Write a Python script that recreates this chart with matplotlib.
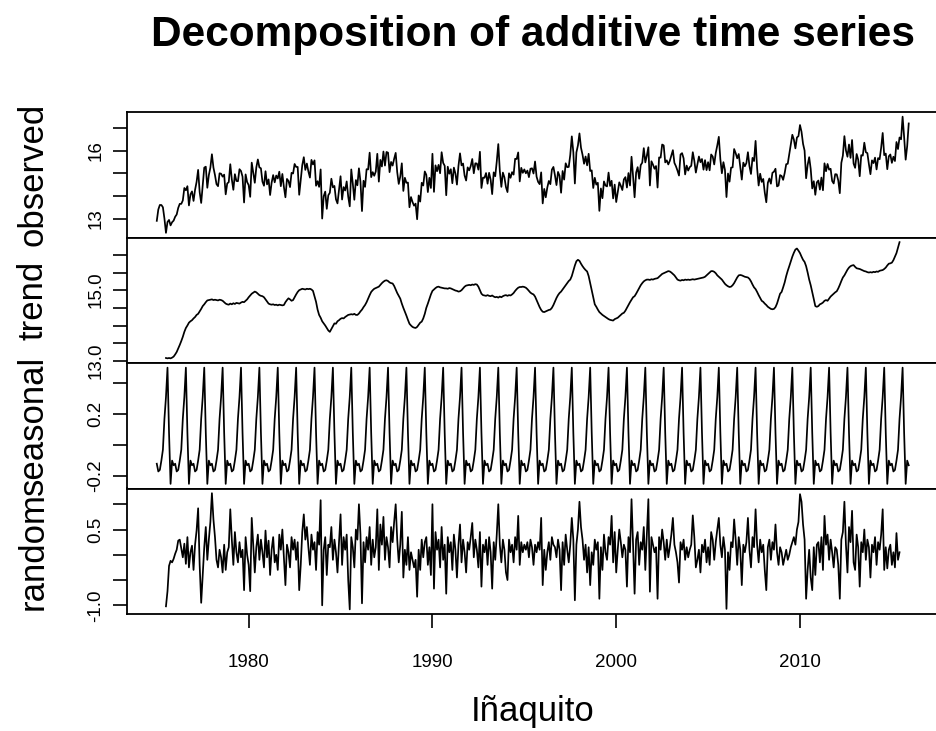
import numpy as np
import matplotlib
matplotlib.use('Agg')
import matplotlib.pyplot as plt

plt.rcParams['font.family'] = ['Liberation Sans', 'DejaVu Sans']

nan = np.nan

# 1) monthly components, Jan 1975 - Dec 2015 (one row per year, Jan..Dec)
trend_rows = [
    [nan, nan, nan, nan, nan, nan, 13.08, 13.07, 13.08, 13.07, 13.09, 13.12],
    [13.18, 13.25, 13.35, 13.45, 13.56, 13.68, 13.82, 13.93, 14.00, 14.08, 14.12, 14.15],
    [14.20, 14.24, 14.30, 14.33, 14.40, 14.47, 14.55, 14.60, 14.66, 14.71, 14.72, 14.73],
    [14.74, 14.72, 14.73, 14.72, 14.71, 14.73, 14.72, 14.70, 14.66, 14.62, 14.60, 14.59],
    [14.62, 14.60, 14.63, 14.61, 14.64, 14.63, 14.62, 14.65, 14.67, 14.66, 14.70, 14.74],
    [14.80, 14.85, 14.90, 14.93, 14.96, 14.94, 14.90, 14.86, 14.84, 14.83, 14.80, 14.74],
    [14.68, 14.62, 14.60, 14.59, 14.60, 14.58, 14.59, 14.57, 14.59, 14.58, 14.57, 14.58],
    [14.66, 14.72, 14.77, 14.74, 14.70, 14.72, 14.80, 14.88, 14.95, 15.00, 15.02, 15.04],
    [15.03, 15.02, 15.04, 15.03, 15.04, 15.02, 14.98, 14.82, 14.67, 14.45, 14.30, 14.22],
    [14.12, 14.06, 14.00, 13.93, 13.86, 13.82, 13.90, 13.98, 14.06, 14.05, 14.12, 14.15],
    [14.19, 14.21, 14.20, 14.24, 14.27, 14.30, 14.31, 14.32, 14.31, 14.33, 14.30, 14.30],
    [14.34, 14.40, 14.45, 14.52, 14.58, 14.66, 14.76, 14.86, 14.95, 15.00, 15.04, 15.06],
    [15.08, 15.10, 15.15, 15.20, 15.24, 15.27, 15.28, 15.26, 15.22, 15.20, 15.19, 15.12],
    [15.02, 14.92, 14.84, 14.76, 14.62, 14.50, 14.39, 14.28, 14.16, 14.05, 14.00, 13.96],
    [13.94, 13.93, 13.96, 14.02, 14.08, 14.11, 14.20, 14.33, 14.50, 14.62, 14.75, 14.88],
    [14.98, 15.02, 15.06, 15.09, 15.10, 15.08, 15.07, 15.06, 15.05, 15.05, 15.04, 15.06],
    [15.05, 15.03, 15.01, 14.99, 14.98, 14.96, 14.97, 15.00, 15.05, 15.10, 15.13, 15.14],
    [15.15, 15.14, 15.16, 15.15, 15.17, 15.16, 15.10, 15.00, 14.90, 14.86, 14.85, 14.84],
    [14.86, 14.84, 14.83, 14.85, 14.82, 14.80, 14.81, 14.79, 14.82, 14.80, 14.83, 14.85],
    [14.86, 14.84, 14.86, 14.85, 14.88, 14.92, 14.98, 15.03, 15.07, 15.09, 15.09, 15.10],
    [15.09, 15.07, 15.03, 14.98, 14.93, 14.90, 14.88, 14.82, 14.72, 14.62, 14.52, 14.44],
    [14.39, 14.38, 14.40, 14.42, 14.44, 14.45, 14.50, 14.58, 14.68, 14.78, 14.86, 14.92],
    [14.96, 15.02, 15.08, 15.14, 15.20, 15.26, 15.30, 15.40, 15.55, 15.70, 15.82, 15.86],
    [15.83, 15.75, 15.68, 15.62, 15.57, 15.53, 15.40, 15.20, 15.00, 14.80, 14.60, 14.53],
    [14.45, 14.38, 14.34, 14.30, 14.27, 14.24, 14.21, 14.18, 14.16, 14.15, 14.14, 14.18],
    [14.20, 14.22, 14.26, 14.30, 14.34, 14.36, 14.42, 14.50, 14.58, 14.66, 14.73, 14.80],
    [14.83, 14.90, 14.98, 15.06, 15.14, 15.20, 15.25, 15.28, 15.30, 15.30, 15.29, 15.31],
    [15.30, 15.32, 15.33, 15.34, 15.38, 15.42, 15.46, 15.48, 15.50, 15.52, 15.54, 15.53],
    [15.50, 15.46, 15.42, 15.36, 15.30, 15.28, 15.27, 15.29, 15.28, 15.30, 15.29, 15.30],
    [15.29, 15.30, 15.31, 15.30, 15.31, 15.32, 15.33, 15.34, 15.35, 15.36, 15.38, 15.42],
    [15.46, 15.50, 15.54, 15.54, 15.52, 15.48, 15.42, 15.38, 15.34, 15.30, 15.24, 15.18],
    [15.14, 15.11, 15.09, 15.10, 15.14, 15.20, 15.28, 15.36, 15.42, 15.43, 15.42, 15.40],
    [15.38, 15.37, 15.36, 15.32, 15.25, 15.16, 15.08, 15.03, 14.95, 14.86, 14.78, 14.70],
    [14.67, 14.62, 14.58, 14.53, 14.50, 14.47, 14.46, 14.47, 14.52, 14.62, 14.76, 14.90],
    [14.95, 15.08, 15.22, 15.40, 15.55, 15.68, 15.82, 15.95, 16.06, 16.15, 16.18, 16.12],
    [16.05, 15.95, 15.86, 15.80, 15.68, 15.50, 15.30, 15.14, 14.95, 14.75, 14.55, 14.53],
    [14.55, 14.60, 14.62, 14.65, 14.70, 14.72, 14.70, 14.76, 14.82, 14.86, 14.90, 14.94],
    [14.97, 15.05, 15.15, 15.26, 15.36, 15.42, 15.50, 15.58, 15.64, 15.68, 15.70, 15.71],
    [15.66, 15.62, 15.61, 15.60, 15.58, 15.56, 15.54, 15.53, 15.51, 15.50, 15.51, 15.50],
    [15.52, 15.51, 15.53, 15.52, 15.55, 15.56, 15.57, 15.60, 15.64, 15.70, 15.75, 15.76],
    [15.78, 15.85, 15.95, 16.05, 16.20, 16.36, nan, nan, nan, nan, nan, nan],
]

# seasonal figure, Jan..Dec
seasonal_fig = [-0.12, -0.17, -0.16, -0.10, -0.03, 0.17, 0.31, 0.50, 0.08, -0.25, -0.10, -0.13]

random_rows = [
    [nan, nan, nan, nan, nan, nan, -1.02, -0.72, -0.22, -0.12, -0.15, -0.08],
    [0.02, 0.10, 0.28, 0.30, 0.12, -0.05, 0.22, -0.18, 0.35, -0.25, 0.05, 0.18],
    [-0.30, 0.20, 0.48, 0.92, -0.20, -0.95, -0.40, 0.15, 0.55, -0.10, 0.30, 0.65],
    [1.22, 0.70, 0.35, -0.10, -0.25, 0.10, -0.05, -0.35, 0.20, -0.30, 0.05, 0.15],
    [0.90, 0.30, -0.20, 0.45, 0.05, -0.15, 0.25, -0.05, 0.10, -0.70, 0.35, 0.00],
    [-0.20, -0.72, 0.73, 0.20, -0.35, 0.15, 0.40, -0.10, 0.30, 0.05, -0.25, 0.48],
    [-0.05, 0.28, -0.40, 0.10, 0.35, -0.15, 0.00, -0.30, 0.40, 0.10, 0.50, -0.05],
    [-0.60, 0.20, 0.05, -0.25, 0.35, 0.10, 0.30, -0.10, 0.25, -0.70, -0.20, 0.45],
    [0.80, 0.30, 0.55, 0.15, -0.20, 0.40, 0.10, 0.25, -0.30, 0.45, 0.20, 1.08],
    [-1.00, 0.10, 0.35, -0.40, 0.20, 0.15, 0.55, -0.10, 0.30, 0.05, -0.35, 0.25],
    [0.80, -0.20, 0.35, 0.10, 0.40, -0.50, -1.08, 0.35, 0.15, -0.25, 0.50, 0.30],
    [1.00, 0.40, -0.96, 0.25, -0.15, 0.35, 0.10, 0.55, -0.20, 0.30, -0.05, 0.15],
    [0.90, -0.30, 0.60, 0.20, 0.75, -0.10, 0.35, 0.15, -0.25, 0.55, 0.25, 0.65],
    [1.00, 0.30, -0.15, 0.20, 0.85, -0.45, 0.10, -0.20, 0.35, -0.30, 0.05, -0.10],
    [-0.25, -0.10, -0.83, 0.10, -0.30, 0.30, -0.05, 0.25, 0.35, -0.20, 0.15, -0.40],
    [1.00, -0.67, 0.45, 0.10, 0.30, -0.25, 0.55, -0.10, 0.20, -0.77, 0.35, 0.05],
    [0.25, -0.30, 0.40, 0.10, -0.45, 0.20, 0.60, -0.15, 0.30, 0.05, -0.35, 0.25],
    [0.10, 0.35, 0.63, -0.05, 0.30, 0.10, -0.25, 0.45, -0.63, 0.20, 0.05, 0.30],
    [-0.20, 0.35, 0.05, -0.67, 0.25, -0.10, 0.40, 1.00, 0.20, -0.15, 0.30, 0.10],
    [-0.35, -0.50, 0.30, 0.05, 0.20, -0.15, 0.35, 0.10, 0.77, -0.20, 0.25, 0.05],
    [0.20, 0.10, 0.25, -0.05, 0.30, 0.15, -0.20, 0.20, 0.05, 0.25, 0.10, 0.73],
    [-0.60, 0.10, -0.30, 0.05, 0.25, -0.10, 0.35, 0.20, 0.15, -0.05, 0.30, 0.10],
    [-0.70, 0.25, -0.20, 0.40, 0.10, -0.15, 0.20, 0.73, 0.30, -0.90, 0.20, 0.50],
    [1.05, 0.55, 0.30, -0.10, 0.20, -0.35, 0.15, -0.60, 0.05, -0.20, 0.30, 0.10],
    [0.25, -0.87, 0.15, -0.30, 0.40, 0.05, -0.10, 0.35, 0.20, 0.77, -0.15, 0.45],
    [-0.35, 0.10, 0.50, 0.25, -0.05, 0.20, 0.10, -0.63, 0.35, 0.05, 1.10, 0.20],
    [-0.77, 0.30, 0.45, -0.20, 0.25, 0.10, 0.55, -0.30, 0.40, 1.10, -0.73, 0.35],
    [0.20, 0.05, 0.15, -0.87, 0.35, 0.10, 0.50, 0.25, -0.10, 0.30, -0.05, 0.15],
    [0.40, 0.73, 0.20, 0.05, -0.15, -0.55, 0.25, 0.10, 0.30, -0.10, 0.15, -0.05],
    [0.10, 0.20, 0.78, 0.35, -0.25, -0.10, 0.10, -0.35, 0.20, 0.05, 0.30, -0.15],
    [0.15, -0.20, 0.45, 0.30, -0.10, 0.25, 0.50, 0.73, 0.20, -0.05, 0.35, 0.10],
    [-1.07, 0.05, -0.30, 0.25, 0.15, 0.70, 0.30, -0.20, 0.35, 0.10, -0.60, 0.20],
    [0.05, 0.25, 0.73, 0.10, -0.25, 0.35, 0.15, 0.90, 0.20, -0.15, 0.30, 0.05],
    [0.20, -0.30, -0.70, 0.15, 0.30, -0.10, 0.25, 0.10, 0.60, 0.05, -0.20, 0.15],
    [0.05, -0.20, -0.05, 0.10, -0.10, 0.00, 0.15, 0.25, 0.35, 0.20, 0.50, 0.65],
    [1.20, 1.05, 0.60, 0.30, -0.87, -0.30, 0.10, -0.45, -0.70, 0.15, -0.40, 0.20],
    [0.25, -0.15, 0.35, -0.30, 0.77, 0.20, 0.40, -0.10, 0.30, 0.05, -0.25, 0.15],
    [0.10, -0.20, -0.87, 0.30, 0.45, 1.05, 0.20, -0.35, 0.55, 0.25, 0.87, -0.15],
    [-0.30, 0.40, 0.15, -0.63, 0.25, 0.05, 0.50, -0.10, 0.30, 0.15, -0.45, 0.20],
    [0.05, 0.35, -0.20, 0.25, 0.10, 0.40, 0.90, -0.30, 0.15, -0.27, 0.10, 0.20],
    [-0.20, 0.05, -0.25, 0.43, -0.10, 0.05, nan, nan, nan, nan, nan, nan],
]

# observed months where the moving average is undefined
obs_head = [12.9, 13.4, 13.6, 13.6, 13.5, 13.0]   # Jan-Jun 1975
obs_tail = [16.5, 17.5, 16.6, 15.6, 16.2, 17.2]   # Jul-Dec 2015

# 2) assemble series
trend = np.array(trend_rows, dtype=float).ravel()
random_ = np.array(random_rows, dtype=float).ravel()
seasonal = np.tile(seasonal_fig, len(trend_rows))
observed = trend + seasonal + random_
observed[:6] = obs_head
observed[-6:] = obs_tail
time = 1975 + np.arange(len(trend)) / 12.0

# 3) layout (R style panels)
W, H = 936, 731
fig = plt.figure(figsize=(W / 100, H / 100), dpi=100)
left, right = 126.7 / W, 938.8 / W
top_px, bot_px = 112, 614
ph = (bot_px - top_px) / 4

panels = [
    ('observed', observed, [13, 14, 15, 16, 17], {13: '13', 16: '16'}),
    ('trend', trend, [13.0, 13.5, 14.0, 14.5, 15.0, 15.5, 16.0], {13.0: '13.0', 15.0: '15.0'}),
    ('seasonal', seasonal, [-0.2, 0.0, 0.2, 0.4], {-0.2: '-0.2', 0.2: '0.2'}),
    ('random', random_, [-1.0, -0.5, 0.0, 0.5, 1.0], {-1.0: '-1.0', 0.5: '0.5'}),
]

span = time[-1] - time[0]
xlim = (time[0] - 0.04 * span, time[-1] + 0.04 * span)

for i, (name, y, ticks, labels) in enumerate(panels):
    y0 = top_px + i * ph
    ax = fig.add_axes([left, 1 - (y0 + ph) / H, right - left, ph / H])
    ax.plot(time, y, color='black', lw=1.25)
    lo, hi = np.nanmin(y), np.nanmax(y)
    pad = 0.04 * (hi - lo)
    ax.set_ylim(lo - pad, hi + pad)
    ax.set_xlim(*xlim)
    ax.set_yticks(ticks)
    ax.set_yticklabels([labels.get(t, '') for t in ticks], rotation=90, va='center', fontsize=13.5)
    ax.tick_params(axis='y', direction='out', length=10, width=1.2, pad=6)
    for s in ax.spines.values():
        s.set_linewidth(1.3)
    if i < 3:
        ax.set_xticks([])
    else:
        ax.set_xticks([1980, 1990, 2000, 2010])
        ax.set_xticklabels(['1980', '1990', '2000', '2010'], fontsize=13.5)
        ax.tick_params(axis='x', direction='out', length=10, width=1.2, pad=19)
    fig.text(33 / W, 1 - (y0 + ph / 2) / H, name, rotation=90,
             ha='center', va='center', fontsize=25)

fig.text((left + right) / 2, 1 - 712 / H, 'Iñaquito', ha='center', va='center', fontsize=25)
fig.text((left + right) / 2, 1 - 35 / H, 'Decomposition of additive time series',
         ha='center', va='center', fontsize=30.5, fontweight='bold')

fig.savefig('out.png', dpi=100)
